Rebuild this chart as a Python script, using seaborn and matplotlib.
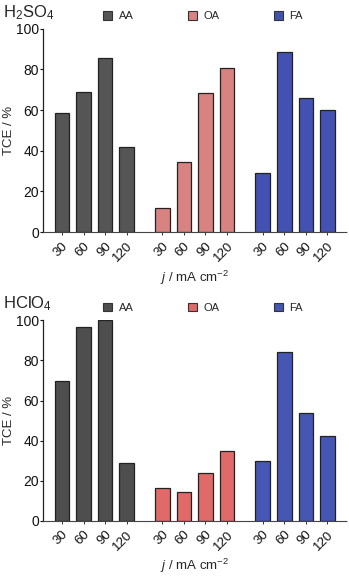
import numpy as np
import pandas as pd
import matplotlib
matplotlib.use('Agg')
import matplotlib.pyplot as plt
import seaborn as sns
from matplotlib.patches import Patch

# data
currents = ['30', '60', '90', '120']
acids = ['AA', 'OA', 'FA']
tce_h2so4 = {'AA': [58.5, 69, 85.5, 42],
             'OA': [12, 34.5, 68.5, 80.5],
             'FA': [29, 88.7, 66, 60]}
tce_hclo4 = {'AA': [69.8, 96.5, 100, 28.8],
             'OA': [16.3, 14.3, 23.8, 34.8],
             'FA': [30, 84, 53.7, 42.2]}
electrolytes = ['H$_2$SO$_4$', 'HClO$_4$']

colors_top = {'AA': '#555555', 'OA': '#d98282', 'FA': '#4352b2'}
colors_bot = {'AA': '#4e4e4e', 'OA': '#e06a6a', 'FA': '#4656b4'}

sns.set_style('white')
plt.rcParams['font.family'] = ['Liberation Sans', 'DejaVu Sans']
plt.rcParams['mathtext.fontset'] = 'custom'
plt.rcParams['mathtext.rm'] = 'Liberation Sans'
plt.rcParams['mathtext.it'] = 'Liberation Sans:italic'


def make_df(vals):
    rows = []
    for g, acid in enumerate(acids):
        for i, c in enumerate(currents):
            rows.append({'acid': acid, 'j': c, 'pos': g * 4.65 + i, 'tce': vals[acid][i]})
    return pd.DataFrame(rows)


fig = plt.figure(figsize=(3.49, 5.76), dpi=100)
ax1 = fig.add_axes([0.123, 0.597, 0.871, 0.353])
ax2 = fig.add_axes([0.123, 0.0955, 0.871, 0.3485])

for ax, vals, cols, name in [(ax1, tce_h2so4, colors_top, electrolytes[0]),
                             (ax2, tce_hclo4, colors_bot, electrolytes[1])]:
    df = make_df(vals)
    sns.barplot(data=df, x='pos', y='tce', hue='acid', palette=cols, native_scale=True,
                dodge=False, width=0.68, saturation=1, edgecolor='#222222', linewidth=0.9,
                legend=False, ax=ax)
    ax.set_xlim(-0.88, 13.2)
    ax.set_ylim(0, 100)
    ax.set_yticks(np.arange(0, 101, 20))
    ax.set_xticks(df['pos'])
    ax.set_xticklabels(df['j'], rotation=45, ha='right', rotation_mode='anchor', fontsize=9.5)
    ax.tick_params(axis='y', labelsize=10, length=2.5, width=0.8, left=True, pad=0.5, colors='#111111')
    ax.tick_params(axis='x', length=2.5, width=0.6, bottom=True, pad=3, colors='#111111')
    for s in ['top', 'right']:
        ax.spines[s].set_visible(False)
    ax.spines['left'].set_color('#222222')
    ax.spines['left'].set_linewidth(0.9)
    ax.spines['bottom'].set_color('#444444')
    ax.spines['bottom'].set_linewidth(0.8)
    ax.spines['bottom'].set_linestyle((0, (1, 1)))
    ax.set_ylabel('TCE / %', fontsize=9.5)
    ax.yaxis.set_label_coords(-0.092, 0.5)
    ax.set_xlabel('$j$ / mA cm$^{-2}$', fontsize=9.5)
    ax.xaxis.set_label_coords(0.5, -0.18)
    handles = [Patch(facecolor=cols[a], edgecolor='#333333', linewidth=0.8, label=a) for a in acids]
    ax.legend(handles=handles, ncol=3, frameon=False, fontsize=8,
              loc='center left', bbox_to_anchor=(0.165, 1.062),
              handlelength=0.8, handleheight=0.8, handletextpad=0.6, columnspacing=4.9)
    pos = ax.get_position()
    fig.text(0.008, pos.y1 + 0.028, name, fontsize=12, ha='left', va='center')

fig.savefig('out.png', dpi=100)
